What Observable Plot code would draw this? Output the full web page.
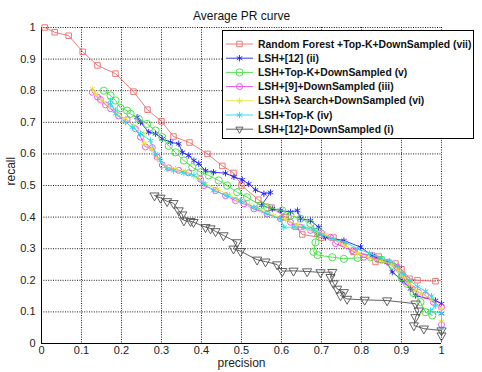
<!DOCTYPE html>
<html><head><meta charset="utf-8">
<script src="https://cdn.jsdelivr.net/npm/d3@7"></script>
<script src="https://cdn.jsdelivr.net/npm/@observablehq/plot@0.6"></script>
<style>
body{margin:0;background:#fff;}
#wrap{position:relative;width:482px;height:372px;}
#wrap svg{position:absolute;left:0;top:0;}
</style></head><body><div id="wrap"></div>
<script>
// [precision, recall] pairs
const rfTopKDown = [[0.008,1.0],[0.033,0.985],[0.068,0.974],[0.103,0.923],[0.14,0.88],[0.185,0.854],[0.23,0.797],[0.265,0.74],[0.30,0.703],[0.33,0.655],[0.37,0.636],[0.415,0.60],[0.452,0.562],[0.48,0.54],[0.50,0.50],[0.542,0.455],[0.575,0.43],[0.61,0.40],[0.635,0.37],[0.652,0.345],[0.70,0.335],[0.73,0.335],[0.755,0.317],[0.78,0.29],[0.827,0.278],[0.843,0.275],[0.835,0.258],[0.885,0.253],[0.90,0.235],[0.92,0.205],[0.94,0.2],[0.985,0.197]];
const lsh12 = [[0.239,0.716],[0.2475,0.70],[0.268,0.669],[0.285,0.664],[0.302,0.648],[0.3225,0.637],[0.343,0.632],[0.352,0.605],[0.368,0.595],[0.381,0.579],[0.393,0.569],[0.41,0.547],[0.43,0.542],[0.46,0.539],[0.481,0.527],[0.502,0.518],[0.518,0.505],[0.535,0.486],[0.556,0.474],[0.5725,0.478],[0.55,0.437],[0.577,0.426],[0.5975,0.421],[0.6225,0.416],[0.64,0.421],[0.6475,0.395],[0.6725,0.389],[0.693,0.368],[0.689,0.347],[0.71,0.336],[0.756,0.326],[0.7975,0.305],[0.827,0.278],[0.864,0.257],[0.877,0.226],[0.902,0.2],[0.9225,0.173],[0.935,0.152],[0.985,0.136],[1.0,0.126],[1.0,0.095]];
const lshTopKDown = [[0.156,0.80],[0.1725,0.785],[0.185,0.769],[0.1975,0.745],[0.214,0.737],[0.2225,0.727],[0.243,0.711],[0.264,0.695],[0.285,0.674],[0.302,0.653],[0.318,0.625],[0.335,0.605],[0.356,0.579],[0.377,0.558],[0.3975,0.542],[0.418,0.532],[0.443,0.516],[0.464,0.50],[0.489,0.479],[0.514,0.463],[0.5475,0.437],[0.564,0.431],[0.602,0.421],[0.6225,0.405],[0.6475,0.395],[0.6725,0.379],[0.69,0.355],[0.685,0.32],[0.68,0.29],[0.69,0.28],[0.727,0.273],[0.756,0.268],[0.79,0.271],[0.8225,0.273],[0.85,0.265],[0.877,0.247],[0.90,0.21],[0.914,0.189],[0.93,0.16],[0.9475,0.131],[0.96,0.099],[0.977,0.089]];
const lsh9Down = [[0.127,0.795],[0.14,0.78],[0.1475,0.772],[0.16,0.755],[0.1725,0.743],[0.193,0.72],[0.214,0.708],[0.235,0.679],[0.2475,0.653],[0.26,0.622],[0.277,0.62],[0.289,0.59],[0.302,0.565],[0.318,0.556],[0.343,0.548],[0.368,0.54],[0.3975,0.52],[0.406,0.50],[0.435,0.484],[0.46,0.468],[0.485,0.452],[0.506,0.442],[0.531,0.426],[0.564,0.41],[0.5975,0.395],[0.6225,0.384],[0.6475,0.368],[0.6725,0.358],[0.70,0.35],[0.7225,0.336],[0.735,0.316],[0.777,0.294],[0.806,0.273],[0.839,0.268],[0.868,0.257],[0.889,0.241],[0.902,0.215],[0.914,0.194],[0.927,0.173],[0.943,0.162],[0.96,0.152],[0.98,0.13],[1.0,0.115],[1.0,0.06]];
const lshLambdaDown = [[0.127,0.806],[0.135,0.79],[0.15,0.77],[0.17,0.75],[0.19,0.725],[0.21,0.71],[0.23,0.69],[0.256,0.665],[0.256,0.633],[0.275,0.615],[0.29,0.585],[0.31,0.56],[0.335,0.552],[0.36,0.545],[0.39,0.525],[0.41,0.505],[0.44,0.488],[0.47,0.47],[0.49,0.455],[0.52,0.44],[0.55,0.42],[0.58,0.405],[0.61,0.392],[0.64,0.375],[0.665,0.362],[0.69,0.352],[0.71,0.345],[0.73,0.33],[0.76,0.31],[0.79,0.285],[0.82,0.27],[0.85,0.262],[0.875,0.25],[0.89,0.235],[0.905,0.21],[0.92,0.19],[0.935,0.17],[0.95,0.158],[0.975,0.14],[1.0,0.11],[1.0,0.07]];
const lshTopK = [[0.1725,0.769],[0.1725,0.758],[0.185,0.737],[0.185,0.727],[0.21,0.70],[0.227,0.684],[0.2475,0.664],[0.2725,0.642],[0.285,0.60],[0.2975,0.579],[0.314,0.553],[0.33,0.547],[0.356,0.539],[0.381,0.532],[0.406,0.505],[0.43,0.484],[0.464,0.468],[0.4975,0.452],[0.531,0.431],[0.564,0.41],[0.5975,0.395],[0.606,0.368],[0.631,0.368],[0.656,0.368],[0.68,0.36],[0.70,0.345],[0.73,0.33],[0.76,0.32],[0.79,0.30],[0.82,0.285],[0.85,0.27],[0.87,0.26],[0.89,0.245],[0.905,0.22],[0.92,0.2],[0.94,0.18],[0.96,0.165],[0.975,0.15],[0.985,0.12],[0.9725,0.104],[1.0,0.095],[1.0,0.047]];
const lsh12Down = [[0.2825,0.468],[0.2975,0.461],[0.314,0.45],[0.33,0.444],[0.343,0.421],[0.352,0.408],[0.356,0.389],[0.3725,0.387],[0.38,0.384],[0.41,0.368],[0.4225,0.364],[0.435,0.355],[0.455,0.342],[0.489,0.32],[0.48,0.30],[0.4975,0.292],[0.539,0.265],[0.56,0.259],[0.589,0.25],[0.602,0.229],[0.63,0.23],[0.664,0.228],[0.6975,0.225],[0.727,0.226],[0.7225,0.21],[0.73,0.19],[0.739,0.173],[0.756,0.162],[0.7475,0.152],[0.764,0.141],[0.808,0.138],[0.864,0.136],[0.935,0.126],[0.943,0.104],[0.935,0.083],[0.931,0.057],[0.956,0.047],[1.0,0.041],[1.0,0.025]];

const seriesLabels = ["Random Forest +Top-K+DownSampled (vii)","LSH+[12] (ii)","LSH+Top-K+DownSampled (v)","LSH+[9]+DownSampled (iii)","LSH+\u03bb Search+DownSampled (vi)","LSH+Top-K (iv)","LSH+[12]+DownSampled (i)"];
const axisTicks = [0,0.1,0.2,0.3,0.4,0.5,0.6,0.7,0.8,0.9,1];

const styles = [
  {data: rfTopKDown, color:"#ee6a6a", symbol:"square", r:3.1, d3sym:d3.symbolSquare, rot:0},
  {data: lsh12, color:"#2020ee", symbol:"asterisk", r:3, d3sym:d3.symbolAsterisk, rot:0},
  {data: lshTopKDown, color:"#3de03d", symbol:"circle", r:3.6, d3sym:d3.symbolCircle, rot:0},
  {data: lsh9Down, color:"#f040f0", symbol:"circle", r:3, d3sym:d3.symbolCircle, rot:0},
  {data: lshLambdaDown, color:"#e8e820", symbol:"asterisk", r:3, d3sym:d3.symbolAsterisk, rot:0},
  {data: lshTopK, color:"#20dcec", symbol:"asterisk", r:3, d3sym:d3.symbolAsterisk, rot:0},
  {data: lsh12Down, color:"#505050", symbol:"triangle", r:3.4, d3sym:d3.symbolTriangle2, rot:180}
];

const font = "Liberation Sans, Arial, sans-serif";
const marks = [
  Plot.gridX(axisTicks, {stroke:"#000", strokeOpacity:0.9, strokeDasharray:"1,1.4"}),
  Plot.gridY(axisTicks, {stroke:"#000", strokeOpacity:0.9, strokeDasharray:"1,1.4"}),
  Plot.axisX(axisTicks, {tickSize:0, tickPadding:3, tickFormat:d=>String(d), fontSize:11, fill:"#222", label:null}),
  Plot.axisY(axisTicks, {tickSize:0, tickPadding:6, tickFormat:d=>String(d), fontSize:11, fill:"#222", label:null}),
  Plot.ruleX([0], {stroke:"#000"}),
  Plot.ruleY([0], {stroke:"#000"})
];
styles.forEach(s => {
  const rows = s.data.map(([x,y]) => ({x,y}));
  marks.push(Plot.line(rows, {x:"x", y:"y", stroke:s.color, strokeWidth:0.9}));
  marks.push(Plot.dot(rows, {x:"x", y:"y", stroke:s.color, fill:"none", symbol:s.symbol, r:s.r, strokeWidth:0.9, rotate:s.rot}));
});
marks.push(Plot.text(["Average PR curve"], {frameAnchor:"top", dy:-16, fontSize:12, fill:"#111"}));
marks.push(Plot.text(["precision"], {frameAnchor:"bottom", dy:23, fontSize:12, fill:"#222"}));
marks.push(Plot.text(["recall"], {frameAnchor:"left", dx:-30, rotate:-90, fontSize:12, fill:"#222"}));

const chart = Plot.plot({
  width:482, height:372,
  marginLeft:41, marginRight:41, marginTop:27, marginBottom:29,
  style:{fontFamily:font, background:"#fff"},
  x:{domain:[0,1]}, y:{domain:[0,1]},
  marks
});
const wrap = document.getElementById("wrap");
wrap.appendChild(chart);

// legend overlay
const lg = d3.select(wrap).append("svg").attr("width",482).attr("height",372).style("pointer-events","none");
lg.append("rect").attr("x",222.5).attr("y",30.5).attr("width",251).attr("height",108).attr("fill","#fff").attr("stroke","#000");
styles.forEach((s,i) => {
  const cy = 44 + i*14.2;
  lg.append("line").attr("x1",226).attr("x2",253).attr("y1",cy).attr("y2",cy).attr("stroke",s.color).attr("stroke-width",0.9);
  lg.append("path").attr("d", d3.symbol(s.d3sym, Math.PI*s.r*s.r)()).attr("transform",`translate(239.5,${cy}) rotate(${s.rot})`)
    .attr("fill","none").attr("stroke",s.color).attr("stroke-width",0.9);
  lg.append("text").attr("x",258).attr("y",cy).attr("dy","0.35em").attr("font-family",font).attr("font-size",10.4).attr("font-weight","bold").attr("fill","#111").text(seriesLabels[i]);
});
</script></body></html>
